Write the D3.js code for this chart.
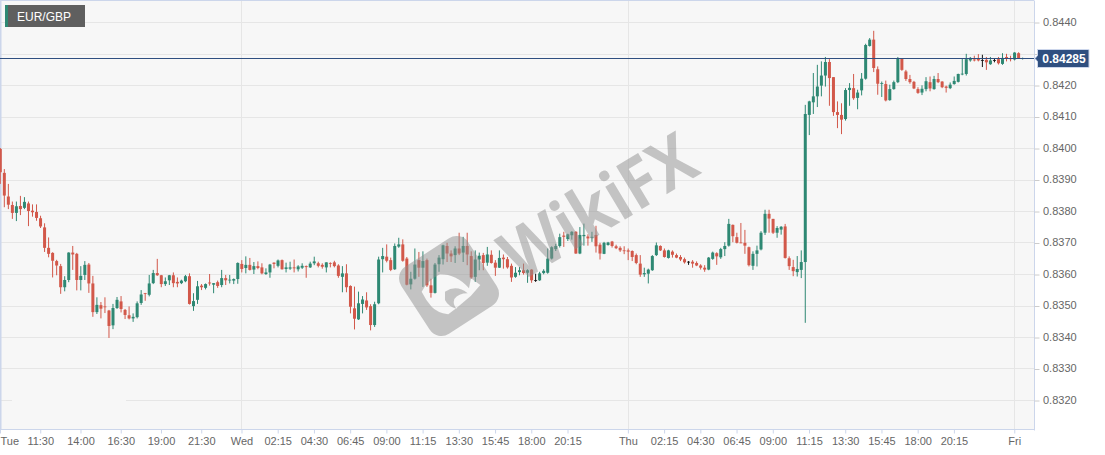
<!DOCTYPE html>
<html><head><meta charset="utf-8">
<script src="https://cdn.jsdelivr.net/npm/d3@7/dist/d3.min.js"></script>
<style>html,body{margin:0;padding:0;background:#fff}svg{display:block}text{font-family:"Liberation Sans",Arial,sans-serif}</style>
</head><body><div id="chart"></div>
<script>
// prices in points of 0.00001
const opens=[83997,83921,83846,83819,83794,83816,83810,83824,83801,83797,83777,83748,83683,83667,83641,83625,83558,83581,83668,83664,83581,83597,83630,83570,83479,83501,83497,83484,83437,83492,83513,83486,83469,83459,83463,83508,83539,83534,83571,83603,83596,83568,83580,83596,83575,83571,83577,83593,83498,83518,83563,83556,83573,83566,83574,83565,83587,83580,83579,83584,83632,83619,83629,83614,83625,
83621,83600,83605,83636,83626,83644,83616,83617,83621,83615,83620,83625,83621,83634,83634,83629,83621,83635,83637,83627,83591,83602,83562,83491,83456,83505,83516,83498,83438,83507,83647,83655,83644,83615,83687,83694,
83649,83567,83585,83644,83620,83644,83564,83540,83631,83647,83689,83665,83660,83681,83668,83689,83657,83591,83646,83660,83636,83661,83636,83620,83652,83647,83626,83591,83606,83612,83604,83614,83581,83580,83603,83604,83649,83679,83689,83722,83711,83723,83734,83665,83720,83719,83715,83724,83693,83664,83692,83703,83688,83683,83675,83675,83673,83660,83633,83599,83601,83612,83660,83689,83675,83651,83671,83660,83654,83647,83639,83639,83635,83627,83620,83614,
83648,83666,83653,83679,83690,83756,83717,83700,83699,83685,83626,83664,83678,83731,83791,83775,83731,83741,83751,83650,83622,83606,83613,83638,
84105,84145,84164,84198,84230,84273,84225,84114,84105,84092,84184,84190,84159,84183,84220,84324,84344,84250,84204,84203,84152,84187,84209,84283,84243,84219,84210,84187,84176,84187,84209,84187,84219,84211,84195,84190,84203,84210,84234,84235,84278,84281,84284,84279,84280,84266,84279,84282,84267,84289,84285,84281,84301,84283];
const highs=[84000,83933,83886,83830,83830,83848,83844,83830,83821,83821,83785,83761,83716,83669,83645,83632,83593,83669,83689,83667,83625,83641,83635,83594,83526,83511,83526,83486,83505,83527,83530,83489,83497,83475,83513,83549,83540,83597,83613,83648,83597,83589,83597,83605,83589,83582,83597,83602,83539,83578,83568,83570,83600,83571,83579,83613,83597,83597,83586,83637,83644,83656,83651,83638,83640,
83634,83618,83632,83637,83646,83646,83636,83639,83646,83628,83634,83627,83639,83655,83639,83634,83637,83637,83642,83631,83625,83631,83564,83560,83544,83530,83542,83504,83512,83655,83683,83694,83652,83697,83715,83710,
83654,83607,83681,83670,83672,83649,83585,83635,83660,83693,83699,83675,83688,83731,83718,83731,83672,83675,83668,83667,83686,83675,83644,83675,83662,83654,83633,83622,83622,83633,83615,83615,83601,83607,83615,83681,83688,83696,83728,83734,83728,83736,83736,83749,83760,83726,83734,83753,83699,83702,83702,83705,83693,83688,83688,83681,83675,83665,83660,83620,83617,83660,83700,83691,83681,83677,83675,83665,83660,83652,83641,83644,83640,83631,83628,83654,
83671,83669,83683,83701,83775,83757,83731,83762,83740,83687,83672,83690,83736,83804,83804,83775,83752,83752,83759,83656,83645,83657,83675,84137,
84150,84238,84264,84275,84289,84282,84225,84148,84142,84190,84206,84235,84185,84238,84331,84349,84372,84259,84211,84214,84201,84214,84289,84285,84248,84232,84213,84193,84199,84225,84227,84229,84238,84212,84198,84208,84227,84236,84283,84299,84289,84293,84298,84296,84289,84289,84283,84289,84301,84299,84293,84304,84304,84287];
const lows=[83886,83812,83806,83775,83768,83787,83806,83752,83782,83769,83746,83670,83653,83589,83596,83537,83545,83574,83613,83548,83548,83581,83540,83464,83473,83459,83476,83397,83425,83489,83478,83457,83456,83448,83459,83502,83515,83529,83568,83594,83558,83562,83565,83558,83558,83568,83574,83503,83483,83505,83549,83551,83563,83539,83556,83558,83565,83570,83568,83569,83605,83602,83611,83600,83615,
83599,83597,83588,83618,83621,83614,83605,83613,83605,83608,83616,83588,83619,83628,83621,83617,83605,83621,83621,83588,83542,83542,83475,83424,83454,83475,83486,83421,83432,83504,83605,83637,83609,83613,83683,83639,
83564,83551,83582,83591,83559,83559,83525,83538,83607,83630,83638,83638,83635,83660,83638,83628,83585,83575,83612,83612,83626,83633,83594,83619,83617,83617,83575,83588,83596,83598,83572,83572,83575,83578,83599,83601,83646,83673,83684,83686,83705,83709,83664,83663,83690,83690,83702,83668,83646,83663,83690,83684,83679,83670,83663,83644,83641,83631,83591,83591,83570,83610,83657,83673,83652,83649,83652,83650,83641,83633,83629,83620,83625,83614,83607,83612,
83645,83629,83648,83657,83687,83701,83697,83698,83664,83624,83613,83624,83675,83724,83731,83727,83715,83725,83649,83613,83593,83592,83587,83445,
84041,84108,84130,84164,84195,84134,84102,84063,84044,84087,84134,84153,84123,84167,84217,84322,84241,84169,84162,84148,84150,84185,84206,84245,84213,84204,84187,84172,84168,84180,84180,84185,84206,84190,84176,84187,84201,84208,84231,84230,84274,84275,84275,84257,84248,84264,84272,84265,84264,84275,84275,84278,84283,84281];
const closes=[83923,83849,83820,83794,83815,83806,83829,83800,83796,83778,83751,83683,83664,83642,83627,83558,83581,83668,83662,83581,83594,83629,83570,83479,83502,83490,83495,83435,83492,83518,83489,83470,83459,83464,83507,83535,83537,83570,83603,83596,83568,83577,83596,83571,83570,83579,83593,83505,83514,83561,83558,83568,83570,83571,83562,83587,83580,83582,83584,83635,83616,83629,83613,83625,83619,
83602,83605,83630,83632,83643,83615,83621,83621,83618,83624,83626,83622,83633,83640,83626,83623,83637,83634,83625,83594,83602,83558,83496,83458,83507,83519,83494,83438,83504,83646,83657,83642,83613,83689,83694,83642,
83566,83585,83630,83620,83641,83564,83540,83630,83652,83691,83665,83656,83681,83665,83689,83662,83589,83646,83658,83635,83662,83635,83620,83651,83647,83621,83589,83604,83612,83603,83612,83580,83581,83602,83610,83649,83685,83689,83717,83718,83726,83734,83665,83724,83724,83713,83718,83688,83665,83699,83700,83689,83682,83675,83674,83671,83654,83635,83598,83603,83614,83657,83691,83675,83654,83675,83661,83652,83646,83637,83639,83633,83627,83620,83614,83652,
83668,83656,83679,83689,83759,83720,83699,83698,83690,83628,83664,83675,83731,83791,83776,83731,83746,83750,83651,83625,83609,83616,83638,84108,
84148,84164,84195,84230,84273,84222,84114,84105,84090,84184,84191,84158,84176,84220,84327,84344,84254,84204,84206,84151,84187,84209,84284,84248,84219,84209,84189,84175,84188,84212,84189,84219,84209,84193,84191,84201,84213,84235,84236,84282,84286,84278,84278,84279,84272,84278,84279,84269,84286,84283,84282,84303,84285,84285];

const xTickIndex=[0,10,20,30,40,50,60,69,78,87,96,105,114,123,132,141,156,165,174,183,192,201,210,219,228,237,252];
const xTickLabels=["Tue","11:30","14:00","16:30","19:00","21:30","Wed","02:15","04:30","06:45","09:00","11:15","13:30","15:45","18:00","20:15","Thu","02:15","04:30","06:45","09:00","11:15","13:30","15:45","18:00","20:15","Fri"];
const dayIndex=[60,156,252];
const yTicks=[0.8440,0.8430,0.8420,0.8410,0.8400,0.8390,0.8380,0.8370,0.8360,0.8350,0.8340,0.8330,0.8320];
const hiddenYLabels=[0.8430];
const lastPrice=0.84285;
const symbol="EUR/GBP";
const watermark="WikiFX";

const W=1105,H=455,plotR=1034,plotB=430;
const UP="#2e8873",DOWN="#d2584a",DOJI="#111",LINE="#2f4f80";
const svg=d3.select("#chart").append("svg").attr("width",W).attr("height",H);
const x=d3.scaleLinear().domain([0,257]).range([0,1034.4]);
const y=d3.scaleLinear().domain([0.8440,0.8320]).range([22,400]);
const px=v=>Math.round(v)+0.5;

svg.append("rect").attr("x",0).attr("y",0).attr("width",plotR).attr("height",plotB).attr("fill","#f7f7f7");
const defs=svg.append("defs");
defs.append("clipPath").attr("id","plot").append("rect").attr("x",0).attr("y",0).attr("width",plotR).attr("height",plotB);

// grid
const grid=svg.append("g").attr("stroke","#e6e6e6").attr("stroke-width",1);
grid.selectAll("line.h").data(yTicks).join("line").attr("class","h").attr("x1",0).attr("x2",plotR).attr("y1",d=>px(y(d))).attr("y2",d=>px(y(d)));
grid.selectAll("line.v").data(dayIndex).join("line").attr("class","v").attr("y1",0).attr("y2",plotB).attr("x1",d=>px(x(d))).attr("x2",d=>px(x(d)));
// blank patch on the lowest grid line, as in the source picture
svg.append("rect").attr("x",12).attr("y",y(0.8320)-1).attr("width",114).attr("height",3).attr("fill","#f7f7f7");

// axes frame (under the candles)
svg.append("rect").attr("x",0).attr("y",0).attr("width",1.5).attr("height",plotB).attr("fill","#ccd6eb");
svg.append("rect").attr("x",0).attr("y",0).attr("width",plotR).attr("height",1).attr("fill","#ccd6eb");

// candles
const idx=d3.range(opens.length);
const candles=svg.append("g").attr("clip-path","url(#plot)");
const colour=i=>closes[i]===opens[i]?DOJI:(closes[i]>opens[i]?UP:DOWN);
const pt=v=>y(v/1e5);
candles.selectAll("line").data(idx).join("line")
  .attr("x1",i=>x(i)+0.3).attr("x2",i=>x(i)+0.3)
  .attr("y1",i=>pt(highs[i])).attr("y2",i=>pt(lows[i]))
  .attr("stroke",colour).attr("stroke-width",1);
candles.selectAll("rect").data(idx).join("rect")
  .attr("x",i=>x(i)+0.3-1.5).attr("width",3)
  .attr("y",i=>Math.min(pt(opens[i]),pt(closes[i])))
  .attr("height",i=>Math.max(0.8,Math.abs(pt(opens[i])-pt(closes[i]))))
  .attr("fill",colour);

// price line
svg.append("line").attr("x1",0).attr("x2",1040).attr("y1",px(y(lastPrice))).attr("y2",px(y(lastPrice))).attr("stroke",LINE).attr("stroke-width",1);

const xAxis=d3.axisBottom(x).tickValues(xTickIndex).tickFormat((d,i)=>xTickLabels[i]).tickSize(4).tickPadding(4);
const gx=svg.append("g").attr("transform",`translate(0,${plotB-0.5})`).call(xAxis);
gx.select(".domain").attr("stroke","#ccd6eb").attr("d",`M0,0H${plotR}`);
gx.selectAll(".tick line").attr("stroke","#ccd6eb");
gx.selectAll("text").attr("fill","#666").style("font-size","11px").attr("text-anchor",d=>d===0?"start":"middle");

const yAxis=d3.axisRight(y).tickValues(yTicks).tickFormat(d=>hiddenYLabels.includes(d)?"":d3.format(".4f")(d)).tickSize(5).tickPadding(3);
const gy=svg.append("g").attr("transform",`translate(${plotR+0.5},0.5)`).call(yAxis);
gy.select(".domain").attr("stroke","#ccd6eb").attr("d",`M0,0V${plotB}`);
gy.selectAll(".tick line").attr("stroke","#cccccc");
gy.selectAll("text").attr("fill","#666").attr("dy","0.24em").attr("x",8.5).style("font-size","11px");

// last price badge
const by=px(y(lastPrice));
svg.append("path").attr("d",`M1035,${by} L1037.5,${by-3} V${by-9} H1089 V${by+9} H1037.5 V${by+3} Z`).attr("fill",LINE).attr("stroke","#ccd6eb").attr("stroke-width",1);
svg.append("text").attr("x",1064).attr("y",by+4.5).attr("text-anchor","middle").attr("fill","#fff").style("font-size","12px").style("font-weight","bold").text(d3.format(".5f")(lastPrice));

// symbol tag
svg.append("rect").attr("x",5).attr("y",5).attr("width",80).attr("height",22).attr("fill","#5f5f5f");
svg.append("rect").attr("x",5).attr("y",5).attr("width",3).attr("height",22).attr("fill","#2e8873");
svg.append("text").attr("x",17).attr("y",21).attr("fill","#fff").style("font-size","12px").text(symbol);

// watermark
const wm=svg.append("g").attr("pointer-events","none");
wm.append("text").attr("transform","translate(519,283) rotate(-31)").attr("fill","#8f8f8f").attr("fill-opacity",0.5)
  .attr("textLength",214).attr("lengthAdjust","spacingAndGlyphs")
  .style("font-size","70px").style("font-weight","bold").style("font-family","'Open Sans',sans-serif").text(watermark);
const mask=defs.append("mask").attr("id","logoCut").attr("maskUnits","userSpaceOnUse").attr("x",380).attr("y",210).attr("width",140).attr("height",150);
mask.append("rect").attr("x",380).attr("y",210).attr("width",140).attr("height",150).attr("fill","#fff");
mask.append("path").attr("transform","translate(395,225) scale(0.3333)").attr("fill","#000").attr("fill-rule","evenodd")
  .attr("d","M80,200 Q98,165 135,148 Q185,148 222,190 L228,160 L256,180 L228,212 L205,232 Q185,250 160,268 Q125,262 110,245 Q92,225 80,200 Z M150,200 Q185,178 218,205 Q190,205 178,222 Q172,240 186,252 Q160,245 150,225 Z");
const lg=wm.append("g").attr("mask","url(#logoCut)");
lg.append("rect").attr("transform","translate(449,286) rotate(-33)").attr("x",-40).attr("y",-40).attr("width",80).attr("height",80).attr("rx",14)
  .attr("fill","#8f8f8f").attr("fill-opacity",0.5);
</script></body></html>
